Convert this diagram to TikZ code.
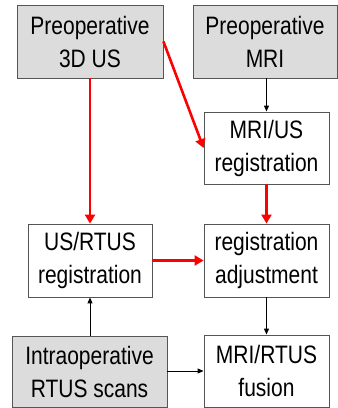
\documentclass[tikz,border=0pt]{standalone}
\usepackage{fontspec}
\usepackage{graphicx}
\setmainfont{Liberation Sans}
\usetikzlibrary{arrows.meta}
\definecolor{boxgray}{HTML}{DCDCDC}
\definecolor{edgegray}{HTML}{555555}
\newcommand{\vst}[1]{\scalebox{1}[1.2]{#1}}
\tikzset{
  box/.style={draw=edgegray, line width=0.9pt, rectangle, inner sep=0pt, align=center,
    font=\fontsize{21}{33}\selectfont},
  graybox/.style={box, fill=boxgray},
  whitebox/.style={box, fill=white},
  redarrow/.style={draw=red, line width=2.6pt, -{Triangle[length=9pt,width=10pt]}},
  blackarrow/.style={draw=black, line width=1pt, -{Triangle[length=6pt,width=5pt]}},
}
\begin{document}
\begin{tikzpicture}[x=1pt,y=-1pt]
\useasboundingbox (0,0) rectangle (338,408);
\node[graybox, minimum width=146pt, minimum height=73pt] (A) at (90,41.5) {\vst{Preoperative}\\\vst{3D US}};
\node[graybox, minimum width=144pt, minimum height=73pt] (B) at (265,41.5) {\vst{Preoperative}\\\vst{MRI}};
\node[whitebox, minimum width=125pt, minimum height=72pt] (C) at (266.5,148) {\vst{MRI/US}\\\vst{registration}};
\node[whitebox, minimum width=124pt, minimum height=73pt] (D) at (90,260.5) {\vst{US/RTUS}\\\vst{registration}};
\node[whitebox, minimum width=125pt, minimum height=73pt] (E) at (266.5,260.5) {\vst{registration}\\\vst{adjustment}};
\node[graybox, minimum width=155pt, minimum height=71pt] (F) at (89.5,371.5) {\vst{Intraoperative}\\\vst{RTUS scans}};
\node[whitebox, minimum width=125pt, minimum height=72pt] (G) at (266.5,371) {\vst{MRI/RTUS}\\\vst{fusion}};
\draw[redarrow] (A.east) -- (C.west);
\draw[redarrow] (A.south) -- (D.north);
\draw[blackarrow] (B.south -| C.north) -- (C.north);
\draw[redarrow] (C.south) -- (E.north);
\draw[redarrow] (D.east) -- (E.west);
\draw[blackarrow] (F.north -| D.south) -- (D.south);
\draw[blackarrow] (F.east |- G.west) -- (G.west);
\draw[blackarrow] (E.south) -- (G.north);
\end{tikzpicture}
\end{document}
